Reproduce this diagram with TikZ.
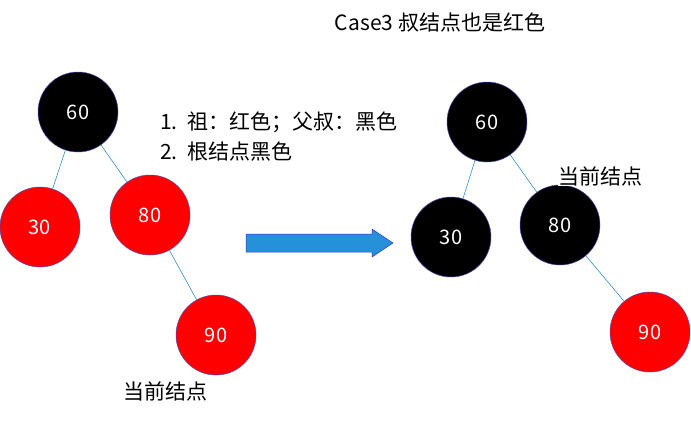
\documentclass[tikz,border=0pt]{standalone}
\usepackage{fontspec}
\setmainfont{Noto Sans CJK SC}
\begin{document}
\begin{tikzpicture}[x=1pt,y=-1pt,
  rb/.style={circle,minimum size=80pt,inner sep=0pt,draw=blue!40!gray,line width=0.5pt,fill=red,text=white,font=\fontsize{20}{22}\selectfont},
  bb/.style={rb,fill=black},
  ed/.style={draw=blue!40!cyan!60!gray,line width=0.6pt},
  lb/.style={font=\fontsize{21}{24}\selectfont,inner sep=0pt}]
\useasboundingbox (0,0) rectangle (691,424);
\node[bb] (a60) at (78,112) {60};
\node[rb] (a30) at (40,227) {30};
\node[rb] (a80) at (150,215) {80};
\node[rb] (a90) at (216,335) {90};
\draw[ed] (a60) -- (a30); \draw[ed] (a60) -- (a80); \draw[ed] (a80) -- (a90);
\node[lb] (cur1) at (165,391) {当前结点};
\node[lb,anchor=west] (l1) at (160,122) {1.\ \ 祖：红色；父叔：黑色};
\node[lb,anchor=west] (l2) at (160,152) {2.\ \ 根结点黑色};
\coordinate (arr) at (246,243);
\fill[fill=blue!40!cyan!70!gray,draw=blue!60!gray,line width=0.5pt]
  (arr) ++(0,-9) -- ++(126,0) -- ++(0,-5) -- ++(21,14) -- ++(-21,14) -- ++(0,-5) -- ++(-126,0) -- cycle;
\node[lb] (title) at (440,22) {Case3 叔结点也是红色};
\node[bb] (b60) at (487,122) {60};
\node[bb] (b30) at (451,237) {30};
\node[bb] (b80) at (560,225) {80};
\node[rb] (b90) at (650,332) {90};
\draw[ed] (b60) -- (b30); \draw[ed] (b60) -- (b80); \draw[ed] (b80) -- (b90);
\node[lb,fill=white] (cur2) at (600,176) {当前结点};
\end{tikzpicture}
\end{document}
